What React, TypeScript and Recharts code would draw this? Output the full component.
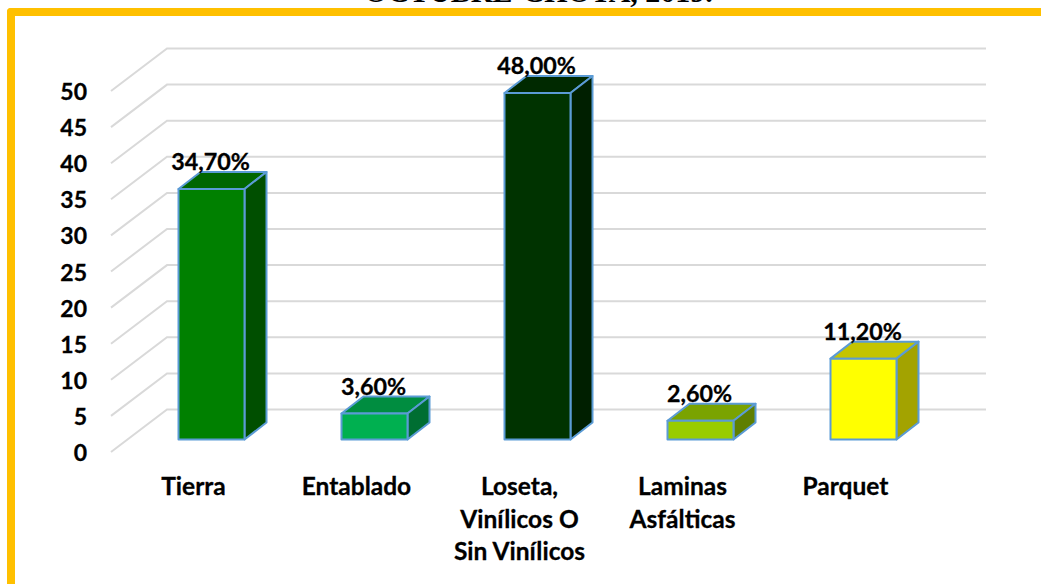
import { BarChart, Bar, XAxis, YAxis, CartesianGrid, LabelList } from 'recharts';

const categories = ['Tierra', 'Entablado', 'Loseta, Vinílicos O Sin Vinílicos', 'Laminas Asfálticas', 'Parquet'];
const tickLines = [['Tierra'], ['Entablado'], ['Loseta,', 'Vinílicos O', 'Sin Vinílicos'], ['Laminas', 'Asfálticas'], ['Parquet']];
const values = [34.7, 3.6, 48.0, 2.6, 11.2];
const valueLabels = ['34,70%', '3,60%', '48,00%', '2,60%', '11,20%'];
const yTicks = [0, 5, 10, 15, 20, 25, 30, 35, 40, 45, 50];

const frontColors = ['#008000', '#00B050', '#003300', '#99CC00', '#FFFF00'];
const topColors = ['#006600', '#008D40', '#002900', '#7AA300', '#C4C400'];
const sideColors = ['#004F00', '#006E32', '#001F00', '#5F7F00', '#A3A300'];

const data = categories.map((name, i) => ({ name, value: values[i] }));

const FONT = 'Lato, Carlito, sans-serif';
const DEPTH_X = 22;
const DEPTH_Y = 17;
// Lato bold is a bit lighter than the reference face
const textStyle = { fontFamily: FONT, fontWeight: 700, fill: '#000', stroke: '#000', strokeWidth: 0.3 };

// Excel style 3D column: front, top and side faces
function Box(props: any) {
  const { x, y, width, height, index } = props;
  const r = x + width;
  const b = y + height;
  const common = { stroke: '#5B9BD5', strokeWidth: 2, strokeLinejoin: 'round' as const };
  return (
    <g>
      <polygon points={`${x},${y} ${x + DEPTH_X},${y - DEPTH_Y} ${r + DEPTH_X},${y - DEPTH_Y} ${r},${y}`} fill={topColors[index]} {...common} />
      <polygon points={`${r},${y} ${r + DEPTH_X},${y - DEPTH_Y} ${r + DEPTH_X},${b - DEPTH_Y} ${r},${b}`} fill={sideColors[index]} {...common} />
      <rect x={x} y={y} width={width} height={height} fill={frontColors[index]} {...common} />
    </g>
  );
}

// gridline runs along the side wall, then along the back wall
function WallLine(props: any) {
  const { y1 } = props;
  return (
    <path
      key={`wall-${y1}`}
      d={`M111,${y1 + 12.5} L167,${y1 - 30} L986,${y1 - 30}`}
      fill="none"
      stroke="#D9D9D9"
      strokeWidth={2}
    />
  );
}

function YTick({ x, y, payload }: any) {
  return (
    <text x={x} y={y + 21.5} textAnchor="end" fontSize={23} {...textStyle}>
      {payload.value}
    </text>
  );
}

function XTick({ x, y, index }: any) {
  return (
    <text textAnchor="middle" fontSize={24.5} {...textStyle}>
      {tickLines[index].map((line, i) => (
        <tspan key={line} x={x - 17.5} y={y + 55.5 + i * 32.5}>
          {line}
        </tspan>
      ))}
    </text>
  );
}

function ValueLabel({ x, y, width, index }: any) {
  return (
    <text x={x + width / 2 - 1} y={y - 19} textAnchor="middle" fontSize={23.3} {...textStyle}>
      {valueLabels[index]}
    </text>
  );
}

export default function App() {
  return (
    <div style={{ position: 'absolute', left: 0, top: 0, width: 1041, height: 584, overflow: 'hidden', background: '#fff' }}>
      <div
        style={{
          position: 'absolute',
          left: 7,
          top: 8,
          right: 0,
          bottom: 0,
          borderTop: '8px solid #FFC000',
          borderLeft: '8px solid #FFC000',
          borderTopLeftRadius: 4,
        }}
      />
      <div
        style={{
          position: 'absolute',
          left: 296,
          width: 485,
          top: -22,
          textAlign: 'center',
          fontFamily: '"Liberation Serif", serif',
          fontWeight: 700,
          fontSize: 30,
          lineHeight: '27px',
          whiteSpace: 'nowrap',
        }}
      >
        OCTUBRE-CHOTA, 2019.
      </div>
      <BarChart
        width={1041}
        height={584}
        data={data}
        margin={{ top: 78.5, right: 96.5, bottom: 44.5, left: 29.5 }}
        style={{ position: 'absolute', left: 0, top: 0 }}
      >
        <CartesianGrid vertical={false} horizontal={WallLine} />
        <XAxis dataKey="name" interval={0} height={100} axisLine={false} tickLine={false} tickSize={0} tickMargin={0} tick={XTick} />
        <YAxis
          width={100}
          domain={[0, 50]}
          ticks={yTicks}
          axisLine={false}
          tickLine={false}
          tickSize={0}
          tickMargin={42.5}
          tick={YTick}
        />
        <Bar dataKey="value" barSize={66} shape={Box} isAnimationActive={false}>
          <LabelList dataKey="value" content={ValueLabel} />
        </Bar>
      </BarChart>
    </div>
  );
}
